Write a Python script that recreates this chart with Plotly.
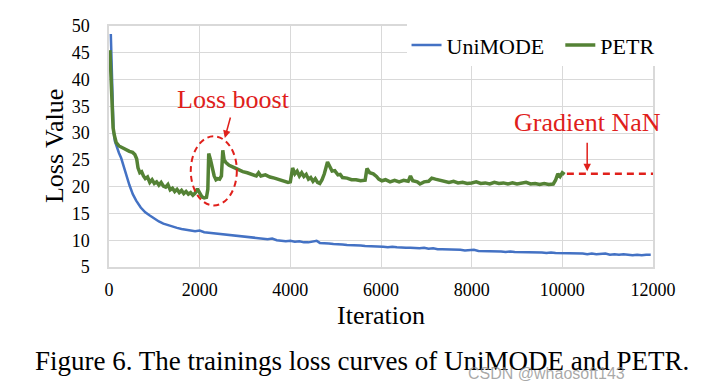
import plotly.graph_objects as go

# ---- data ----
unimode_iter = [40, 60, 80, 100, 130, 170, 220, 270, 320, 385, 450, 525, 600, 700, 800, 900,
                1000, 1100, 1200, 1300, 1400, 1500, 1600, 1700, 1800, 1900, 2000, 2100, 2200,
                2300, 2400, 2500, 2600, 2700, 2800, 2900, 3000, 3100, 3200, 3300, 3400, 3500,
                3600, 3700, 3800, 3900, 4000, 4100, 4200, 4300, 4400, 4500, 4580, 4650, 4750,
                4850, 4950, 5050, 5150, 5250, 5350, 5450, 5550, 5650, 5750, 5850, 5950, 6050,
                6150, 6250, 6350, 6450, 6550, 6650, 6750, 6850, 6950, 7050, 7150, 7250, 7350,
                7450, 7550, 7650, 7750, 7850, 7950, 8050, 8150, 8250, 8350, 8450, 8550, 8650,
                8750, 8850, 8950, 9050, 9150, 9250, 9350, 9450, 9550, 9650, 9750, 9850, 9950,
                10050, 10150, 10250, 10350, 10450, 10550, 10650, 10750, 10850, 10950, 11050,
                11150, 11250, 11350, 11450, 11550, 11650, 11750, 11850, 11950]
unimode_loss = [48.5, 42.0, 35.0, 30.5, 28.5, 27.3, 26.3, 25.3, 23.8, 21.8, 20.3, 18.6, 17.4,
                16.1, 15.2, 14.6, 14.0, 13.5, 13.1, 12.8, 12.5, 12.3, 12.1, 12.0, 11.9, 11.7,
                11.8, 11.5, 11.4, 11.3, 11.2, 11.1, 11.0, 10.9, 10.8, 10.7, 10.6, 10.6, 10.4,
                10.4, 10.3, 10.2, 10.3, 10.0, 9.9, 9.8, 9.9, 9.7, 9.8, 9.6, 9.6, 9.7, 9.9, 9.5,
                9.5, 9.4, 9.3, 9.3, 9.2, 9.1, 9.1, 9.0, 9.0, 8.9, 8.9, 8.8, 8.9, 8.8, 8.7, 8.8,
                8.7, 8.6, 8.6, 8.6, 8.5, 8.5, 8.6, 8.4, 8.5, 8.3, 8.3, 8.3, 8.2, 8.2, 8.2, 8.1,
                8.1, 8.2, 8.0, 8.0, 7.9, 8.0, 7.9, 7.9, 7.8, 7.9, 7.8, 7.8, 7.7, 7.8, 7.7, 7.8,
                7.7, 7.6, 7.7, 7.6, 7.6, 7.6, 7.5, 7.6, 7.5, 7.5, 7.4, 7.5, 7.4, 7.4, 7.5, 7.3,
                7.4, 7.3, 7.4, 7.3, 7.2, 7.3, 7.2, 7.3, 7.3]

petr_iter = [20, 60, 90, 120, 160, 220, 300, 380, 450, 520, 570, 610, 640, 680, 720, 760, 800,
             850, 900, 950, 1000, 1050, 1100, 1150, 1200, 1250, 1300, 1350, 1400, 1450, 1500,
             1550, 1600, 1650, 1700, 1750, 1800, 1850, 1900, 1950, 2000, 2050, 2100, 2150,
             2180, 2200, 2240, 2280, 2320, 2360, 2400, 2440, 2480, 2510, 2540, 2580, 2650,
             2750, 2850, 2950, 3050, 3150, 3250, 3300, 3350, 3450, 3550, 3650, 3750, 3850,
             3950, 4000, 4050, 4100, 4150, 4200, 4250, 4300, 4350, 4400, 4450, 4500, 4550,
             4600, 4650, 4700, 4750, 4820, 4860, 4920, 4980, 5050, 5100, 5150, 5250, 5350,
             5450, 5550, 5650, 5690, 5750, 5830, 5900, 5950, 6020, 6100, 6200, 6300, 6400,
             6500, 6600, 6650, 6700, 6800, 6860, 6950, 7050, 7120, 7200, 7300, 7400, 7500,
             7600, 7700, 7800, 7900, 8000, 8100, 8200, 8300, 8400, 8500, 8600, 8700, 8800,
             8900, 9000, 9100, 9200, 9300, 9400, 9500, 9600, 9700, 9800, 9850, 9900, 9950,
             10000, 10050]
petr_loss = [45.5, 38.0, 31.0, 29.5, 28.2, 27.6, 27.2, 26.9, 26.6, 26.4, 26.0, 25.2, 23.5,
             22.6, 22.8, 22.0, 21.5, 21.8, 20.8, 21.3, 20.6, 20.9, 20.3, 20.8, 20.1, 19.9,
             20.4, 19.4, 19.7, 19.1, 19.5, 18.9, 19.3, 18.7, 19.1, 18.6, 18.9, 18.4, 18.8,
             19.6, 18.9, 18.1, 17.9, 18.0, 19.5, 26.2, 25.0, 23.5, 22.0, 21.3, 21.5, 21.4,
             22.0, 26.8, 25.0, 24.5, 24.0, 23.6, 23.2, 22.8, 22.6, 22.3, 22.0, 22.6, 22.0,
             22.2, 21.8, 21.6, 21.3, 21.1, 20.8, 20.9, 23.5, 22.4, 22.9, 22.0, 22.6, 21.9,
             22.3, 21.4, 21.7, 21.0, 21.5, 20.8, 20.6, 21.3, 22.4, 24.6, 23.8, 22.9, 23.0,
             22.2, 22.3, 21.7, 21.6, 21.3, 21.3, 21.1, 21.2, 23.4, 22.6, 22.4, 21.9, 21.4,
             21.1, 21.3, 20.9, 21.2, 20.9, 21.2, 21.0, 22.0, 21.1, 20.9, 20.5, 20.9, 21.0,
             21.6, 21.4, 21.2, 21.1, 20.8, 21.0, 20.7, 20.8, 20.6, 20.7, 20.9, 20.6, 20.7,
             20.5, 20.8, 20.6, 20.7, 20.5, 20.7, 20.5, 20.6, 20.8, 20.5, 20.6, 20.4, 20.6,
             20.4, 20.5, 21.2, 22.4, 21.9, 22.6, 22.3]

nan_level = 22.4
nan_iter = [10100, 12000]
nan_loss = [nan_level, nan_level]

x_ticks = [0, 2000, 4000, 6000, 8000, 10000, 12000]
y_ticks = [5, 10, 15, 20, 25, 30, 35, 40, 45, 50]

RED = "#E0201B"
GRID = "#D9D9D9"
SERIF = "Liberation Serif, Times New Roman, serif"
NBSP = "\u00a0"

fig = go.Figure()
fig.add_trace(go.Scatter(x=unimode_iter, y=unimode_loss, mode="lines",
                         name="UniMODE" + NBSP * 2,
                         line=dict(color="#4472C4", width=2.5)))
fig.add_trace(go.Scatter(x=petr_iter, y=petr_loss, mode="lines", name="PETR",
                         line=dict(color="#548235", width=3.5)))
fig.add_trace(go.Scatter(x=nan_iter, y=nan_loss, mode="lines", showlegend=False,
                         line=dict(color=RED, width=2.5, dash="7px,5px")))

# dashed ellipse around the loss boost
fig.add_shape(type="circle", xref="x", yref="y", x0=1804, x1=2820, y0=16.5, y1=29.4,
              line=dict(color=RED, width=2, dash="6px,4px"))

# arrows
fig.add_annotation(x=2555, y=29.1, xref="x", yref="y", text="", showarrow=True,
                   ax=6, ay=-22, arrowhead=2, arrowsize=1, arrowwidth=1.5, arrowcolor=RED)
fig.add_annotation(x=10548, y=22.9, xref="x", yref="y", text="", showarrow=True,
                   ax=0, ay=-30, arrowhead=2, arrowsize=1, arrowwidth=1.5, arrowcolor=RED)

# annotation texts
fig.add_annotation(x=2754, y=36.2, xref="x", yref="y", text="Loss boost", showarrow=False,
                   font=dict(family=SERIF, size=26, color=RED))
fig.add_annotation(x=10548, y=31.9, xref="x", yref="y", text="Gradient NaN", showarrow=False,
                   font=dict(family=SERIF, size=26, color=RED))

# axis titles
fig.add_annotation(x=0.5, y=-0.2, xref="paper", yref="paper", text="Iteration",
                   showarrow=False, yanchor="middle",
                   font=dict(family=SERIF, size=26, color="black"))
fig.add_annotation(x=-0.1, y=0.5, xref="paper", yref="paper", text="Loss Value",
                   showarrow=False, textangle=-90, xanchor="center", yanchor="middle",
                   font=dict(family=SERIF, size=26, color="black"))

# caption
fig.add_annotation(x=0.465, y=-0.388, xref="paper", yref="paper",
                   text="Figure 6. The trainings loss curves of UniMODE and PETR.",
                   showarrow=False, yanchor="middle",
                   font=dict(family=SERIF, size=27, color="black"))
# watermark
fig.add_annotation(x=0.952, y=-0.4416, xref="paper", yref="paper",
                   text="CSDN @whaosoft143", showarrow=False, yanchor="middle",
                   font=dict(family="Liberation Sans, Arial, sans-serif", size=16,
                             color="rgba(140,140,140,0.75)"))

fig.update_layout(
    width=721, height=390,
    margin=dict(l=109, r=68, t=26, b=123),
    paper_bgcolor="white", plot_bgcolor="white",
    showlegend=True,
    legend=dict(orientation="h", x=1.012, xanchor="right", y=0.92, yanchor="middle",
                bgcolor="white", font=dict(family=SERIF, size=22, color="black"),
                itemwidth=30, tracegroupgap=0),
    font=dict(family=SERIF, color="black"),
)
fig.update_xaxes(range=[0, 12000], tickvals=x_ticks, ticktext=[str(v) for v in x_ticks],
                 showgrid=True, gridcolor=GRID, gridwidth=1.2, zeroline=False,
                 showline=True, linecolor=GRID, linewidth=1.5, mirror=True,
                 ticks="", ticklabelstandoff=6,
                 tickfont=dict(family=SERIF, size=18, color="black"))
fig.update_yaxes(range=[5, 50], tickvals=y_ticks, ticktext=[str(v) for v in y_ticks],
                 showgrid=True, gridcolor=GRID, gridwidth=1.2, zeroline=False,
                 showline=True, linecolor=GRID, linewidth=1.5, mirror=True,
                 ticks="", ticklabelstandoff=14,
                 tickfont=dict(family=SERIF, size=18, color="black"))

fig.write_html("out.html", post_script="document.body.style.margin='0';",
               config={"displayModeBar": False})
